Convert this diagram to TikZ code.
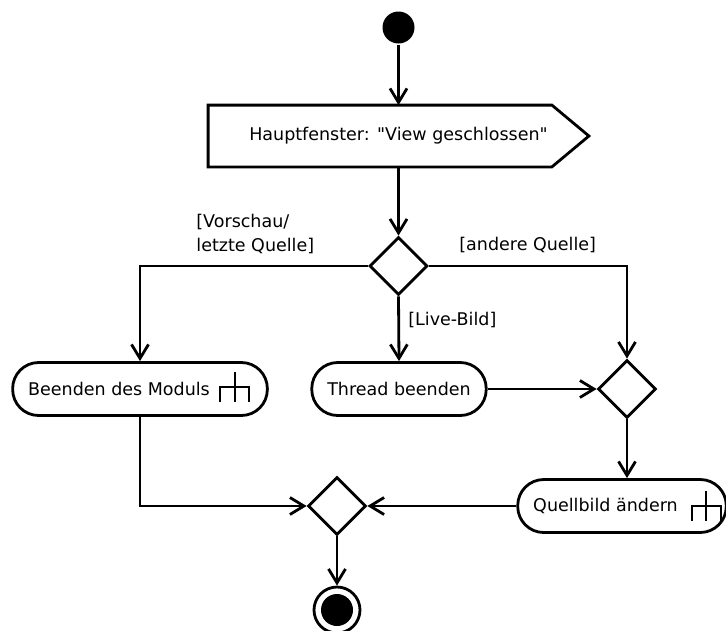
\documentclass[tikz,border=0pt]{standalone}
\usepackage{fontspec}
\newfontfamily\umlfont{DejaVu Sans}
\usetikzlibrary{arrows.meta,shapes.geometric,calc}

\begin{document}
\begin{tikzpicture}[x=1pt,y=-1pt,line width=2.8pt,
  every node/.style={font=\umlfont\fontsize{17.5}{24}\selectfont},
  flow/.style={-{Straight Barb[length=14pt,width=17pt]}},
  action/.style={draw,rectangle,rounded corners=26pt,minimum height=53pt,inner xsep=15.5pt},
  branch/.style={draw,diamond,minimum width=58pt,minimum height=58pt,inner sep=0pt},
  guard/.style={inner sep=0pt},
  rake/.pic={\draw[line width=1.8pt] (-14.5,15) -- (-14.5,0) -- (14.5,0) -- (14.5,15) (0,-15) -- (0,15);}]
\useasboundingbox (0,0) rectangle (726,630);
\clip (0,0) rectangle (726,630);

% start and end
\node[circle,fill,minimum size=32pt,inner sep=0pt] (start) at (398.5,27.5) {};
\node[draw,circle,minimum size=46pt,inner sep=0pt] (stop) at (337,610) {};
\fill (stop.center) circle (16);

% signal
\node[minimum width=378pt,minimum height=59pt] (signal) at (398.5,136) {Hauptfenster: "View geschlossen"};
\draw (signal.north west) -- ($(signal.north east)+(-37,0)$) -- (signal.east)
  -- ($(signal.south east)+(-37,0)$) -- (signal.south west) -- cycle;

% actions
\node[action] (modul) at (140,389) {Beenden des Moduls\hspace*{42pt}};
\node[action] (thread) at (399,389) {Thread beenden};
\node[action] (quell) at (622,506) {Quellbild ändern\hspace*{33pt}};
\pic at ($(modul.east)+(-34,-2)$) {rake};
\pic at ($(quell.east)+(-21.5,0)$) {rake};

% decisions
\node[branch] (d1) at (398.5,266) {};
\node[branch] (d2) at (627,389) {};
\node[branch] (d3) at (337,506) {};

% guards
\node[guard,align=left,anchor=west] (gvor) at (195,234) {[Vorschau/\\letzte Quelle]};
\node[guard,anchor=west] (gand) at (458,245) {[andere Quelle]};
\node[guard,anchor=west] (glive) at (407,320) {[Live-Bild]};

% flows
\draw[flow] (start) -- (signal);
\draw[flow] (signal) -- (d1);
\draw[flow] (d1.west) -| (modul.north);
\draw[flow] (d1.east) -| (d2.north);
\draw[flow] (d1.south) -- (thread.north);
\draw[flow] (thread) -- (d2);
\draw[flow] (d2.south) -- (d2.south |- quell.north);
\draw[flow] (modul.south) |- (d3.west);
\draw[flow] (quell) -- (d3);
\draw[flow] (d3.south) -- (stop.north);
\end{tikzpicture}
\end{document}
